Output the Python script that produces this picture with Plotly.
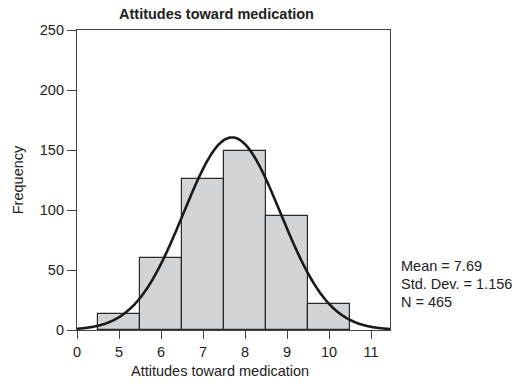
import numpy as np
import plotly.graph_objects as go

# Data
bin_centers = [5, 6, 7, 8, 9, 10]
frequencies = [13, 60, 126, 149, 95, 22]
x_tick_positions = [4, 5, 6, 7, 8, 9, 10, 11]
x_tick_labels = ["0", "5", "6", "7", "8", "9", "10", "11"]
y_ticks = [0, 50, 100, 150, 200, 250]
mean_val = 7.69
sd_val = 1.156
n_val = 465
bin_width = 1.0

# Fitted normal curve from the stated statistics
xc = np.linspace(4, 11.45, 300)
yc = n_val * bin_width * np.exp(-0.5 * ((xc - mean_val) / sd_val) ** 2) / (sd_val * np.sqrt(2 * np.pi))

font_family = "Liberation Sans, Arial, sans-serif"
txt = "#222222"
fs = 14.5

fig = go.Figure()
fig.add_trace(go.Bar(
    x=bin_centers, y=frequencies, width=1.0,
    marker=dict(color="#d3d4d6", line=dict(color="#2a2a2a", width=1.2)),
    showlegend=False, hoverinfo="skip"))
fig.add_trace(go.Scatter(
    x=xc, y=yc, mode="lines",
    line=dict(color="#1a1a1a", width=2.6, shape="spline"),
    showlegend=False, hoverinfo="skip"))

fig.update_layout(
    width=528, height=386,
    margin=dict(l=77, r=138, t=30, b=56),
    paper_bgcolor="white", plot_bgcolor="white",
    font=dict(family=font_family, size=fs, color=txt),
    bargap=0,
    xaxis=dict(range=[4, 11.45], tickmode="array", tickvals=x_tick_positions,
               ticktext=x_tick_labels, showgrid=False, zeroline=False,
               showline=True, linecolor="#444444", linewidth=1.2, mirror=True,
               ticks="outside", ticklen=8, tickcolor="#444444", tickwidth=1.2,
               tickfont=dict(size=fs, color=txt)),
    yaxis=dict(range=[0, 250], tickmode="array", tickvals=y_ticks,
               showgrid=False, zeroline=False,
               showline=True, linecolor="#444444", linewidth=1.2, mirror=True,
               ticks="outside", ticklen=9, tickcolor="#444444", tickwidth=1.2,
               tickfont=dict(size=fs, color=txt),
               title=dict(text="Frequency", font=dict(size=fs, color=txt), standoff=12)),
)

fig.add_annotation(text="<b>Attitudes toward medication</b>", xref="paper", yref="paper",
                   x=(216 - 77) / 313, y=1, yshift=16, xanchor="center", yanchor="middle",
                   showarrow=False, font=dict(size=fs, color=txt))
fig.add_annotation(text="Attitudes toward medication", xref="paper", yref="paper",
                   x=(220 - 77) / 313, y=0, yshift=-41, xanchor="center", yanchor="middle",
                   showarrow=False, font=dict(size=fs, color=txt))

stats = [f"Mean = {mean_val:.2f}", f"Std. Dev. = {sd_val:.3f}", f"N = {n_val}"]
for i, s in enumerate(stats):
    fig.add_annotation(text=s, xref="paper", yref="paper", x=1, xshift=9,
                       y=(330 - (266 + 18 * i)) / 300, xanchor="left", yanchor="middle",
                       showarrow=False, font=dict(size=fs, color=txt))

fig.write_html("out.html")
